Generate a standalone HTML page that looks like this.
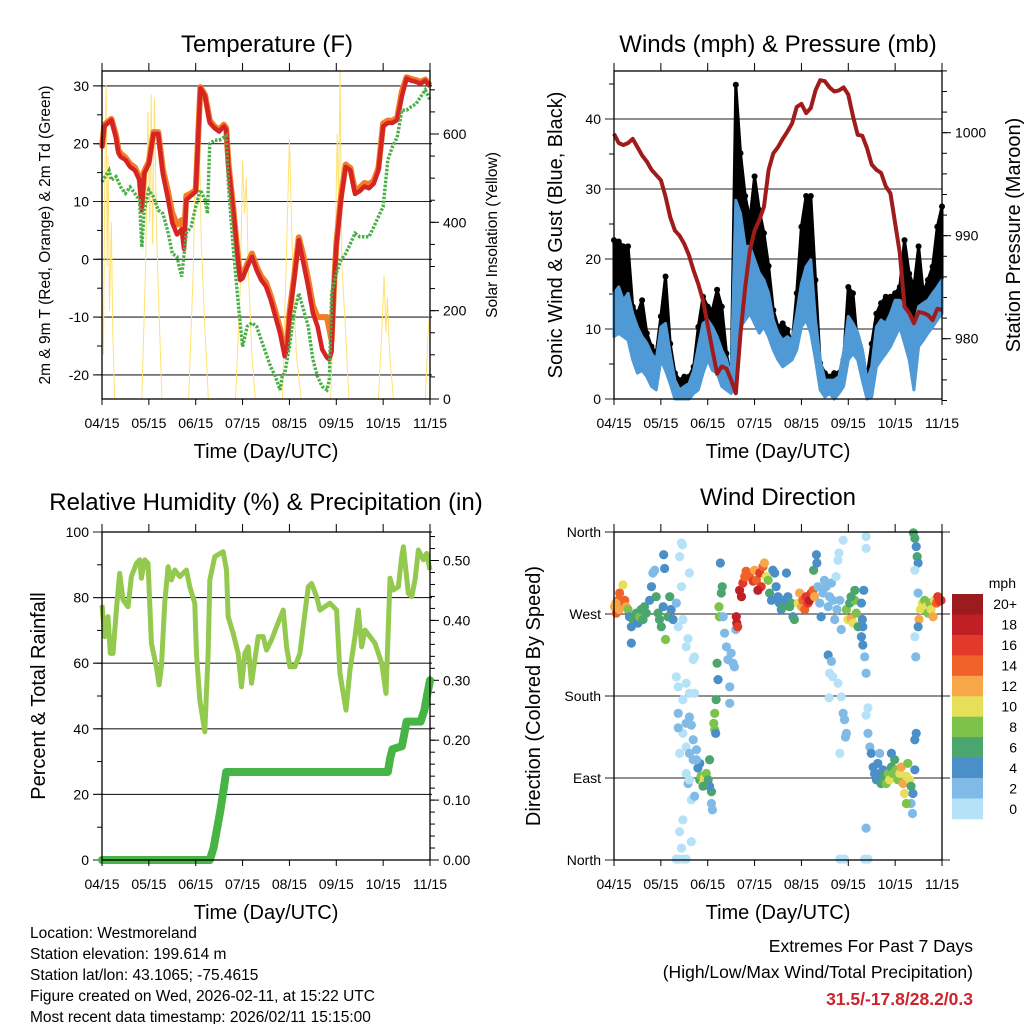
<!DOCTYPE html>
<html><head><meta charset="utf-8">
<style>
html,body{margin:0;padding:0;background:#fff;}
svg{display:block;font-family:"Liberation Sans",Arial,sans-serif;}
</style></head>
<body>
<svg id="chart" width="1024" height="1024" viewBox="0 0 1024 1024" xmlns="http://www.w3.org/2000/svg">
<rect width="1024" height="1024" fill="#fff"/>
<g id="g1"></g>
<g id="g2"></g>
<g id="g3"></g>
<g id="g4"></g>
<g font-size="15.5" fill="#000">
<text x="30" y="938">Location: Westmoreland</text>
<text x="30" y="959">Station elevation: 199.614 m</text>
<text x="30" y="980">Station lat/lon: 43.1065; -75.4615</text>
<text x="30" y="1001">Figure created on Wed, 2026-02-11, at 15:22 UTC</text>
<text x="30" y="1022">Most recent data timestamp: 2026/02/11 15:15:00</text>
</g>
<g text-anchor="end">
<text x="973" y="952" font-size="17.5">Extremes For Past 7 Days</text>
<text x="973" y="978" font-size="17.5">(High/Low/Max Wind/Total Precipitation)</text>
<text x="973" y="1005" font-size="17.5" font-weight="bold" fill="#d0222a">31.5/-17.8/28.2/0.3</text>
</g>
</svg>
<script>
// ---------- shared ----------
const xTickLabels = ["04/15","05/15","06/15","07/15","08/15","09/15","10/15","11/15"];
// ---------- temperature data ----------
const tempTime = [0,0.05,0.2,0.3,0.35,0.4,0.5,0.6,0.7,0.8,0.85,0.9,1.0,1.1,1.2,1.3,1.4,1.5,1.6,1.7,1.75,1.8,1.9,2.0,2.1,2.2,2.3,2.4,2.5,2.6,2.65,2.7,2.8,2.9,2.95,3.0,3.1,3.2,3.3,3.4,3.5,3.6,3.7,3.8,3.9,3.95,4.0,4.1,4.2,4.3,4.4,4.5,4.6,4.7,4.8,4.85,4.9,4.95,5.0,5.1,5.2,5.3,5.4,5.5,5.6,5.7,5.8,5.9,6.0,6.1,6.2,6.3,6.4,6.5,6.6,6.7,6.8,6.9,7.0];
const temp2m = [19.2,23,24.1,21,18.4,17.7,17.2,16,15.4,13.7,8.5,14.8,16.5,21.7,21.7,14.7,10.8,6.3,4.3,5.2,1.8,10.3,11,11.7,29.6,28.2,23.6,22.7,22.1,23,22.4,16,8.5,-0.1,-3.6,-3.3,-1.3,0.45,-1.9,-3.6,-4.7,-7,-9.9,-12.8,-16.8,-15.5,-9.9,-3.6,3.3,-0.7,-4.7,-9.3,-11.6,-15.6,-17,-17.3,-16,-5,2.2,10.3,16,15.4,11.3,11.8,12.6,12.3,13.1,15.4,23,23.6,23.6,24.1,28.2,31.3,30.9,30.7,30.4,30.9,29.9];
const temp9m = [19.5,23.3,24.3,21.4,18.9,18.3,17.6,16.5,15.9,14.2,9.5,15.2,16.9,22,22,15.5,12,8,6,6.8,4,11,11.4,12,29.8,28.4,24,23,22.4,23.3,22.7,16.5,9,0.5,-3,-2.8,-0.8,1,-1.3,-3,-4,-6.3,-9,-12,-16,-15,-9.3,-3,3.8,0.5,-3.5,-8,-10,-10,-10,-12,-14,-5,2.6,10.8,16.4,15.8,11.8,12.4,13.2,13,13.6,15.8,23.5,24,24,24.5,29,31.5,31.2,31,30.7,31.1,30.1];
const dewTime = [0,0.15,0.2,0.3,0.4,0.5,0.6,0.7,0.8,0.85,0.9,1.0,1.1,1.2,1.3,1.4,1.5,1.6,1.7,1.8,1.9,2.0,2.1,2.2,2.25,2.3,2.4,2.5,2.6,2.65,2.7,2.8,2.9,3.0,3.1,3.2,3.3,3.4,3.5,3.6,3.7,3.8,3.85,3.9,4.0,4.1,4.2,4.3,4.4,4.5,4.6,4.7,4.8,4.85,4.9,5.0,5.1,5.2,5.3,5.4,5.5,5.6,5.7,5.8,5.9,6.0,6.1,6.2,6.3,6.4,6.5,6.6,6.7,6.8,6.9,7.0];
const dewVals = [13.4,15.4,13.7,14.3,12.5,11.4,12.5,11.4,10.2,2.1,8.5,12,10.8,8.5,7.9,5,1,0.45,-3,4.5,5.6,9.1,12,10.2,7.9,20,20.6,20.6,21.1,21.4,12.5,2.1,-7,-15.1,-11.6,-11,-11.6,-14,-16.3,-18.6,-20.3,-22.6,-20,-19.8,-15.1,-9.3,-5.9,-8.7,-11.6,-17.3,-20.3,-22,-22.6,-21,-5.9,-2.4,-0.1,1,2.7,4.5,3.9,3.9,3.9,5.6,7.4,9.1,17.2,19.5,21.1,25.8,25.8,26.4,26.9,28.1,29.3,27.6];
const solarTime = [0,0.03,0.06,0.09,0.11,0.13,0.16,0.2,0.23,0.27,0.85,0.93,0.98,1.02,1.05,1.08,1.12,1.16,1.2,1.28,1.85,1.95,2.0,2.04,2.08,2.12,2.2,2.27,2.85,2.95,3.0,3.04,3.08,3.12,3.2,3.27,3.85,3.93,4.0,4.07,4.15,4.25,4.88,4.97,5.02,5.05,5.08,5.12,5.2,5.27,5.9,5.97,6.02,6.06,6.09,6.14,6.22,6.9,6.96,7.0];
const solarVals = [250,100,500,711,300,550,200,400,150,0,0,300,650,400,690,350,680,400,250,0,0,300,610,450,560,350,150,0,0,250,540,420,500,300,100,0,0,300,590,300,100,0,0,300,600,450,745,300,150,0,0,150,279,150,230,100,0,0,150,208];
const tempTicks = [30,20,10,0,-10,-20];
const solarTicks = [0,200,400,600];
// ---------- wind data ----------
const windTime = [0,0.1,0.2,0.3,0.4,0.5,0.6,0.7,0.8,0.9,1.0,1.1,1.2,1.3,1.4,1.5,1.6,1.7,1.8,1.9,2.0,2.1,2.2,2.3,2.4,2.5,2.6,2.7,2.8,2.9,3.0,3.1,3.2,3.3,3.4,3.5,3.6,3.7,3.8,3.9,4.0,4.1,4.2,4.3,4.4,4.5,4.6,4.7,4.8,4.9,5.0,5.1,5.2,5.3,5.4,5.5,5.6,5.7,5.8,5.9,6.0,6.1,6.2,6.3,6.4,6.5,6.6,6.7,6.8,6.9,7.0];
const sonicLow = [8.9,9.4,8.9,8.4,5.6,3.7,4.1,3.2,1.8,1.3,5.6,4.1,2.2,0,0,0,0,0.8,1.3,3.7,5.6,4.1,3.7,1.8,1.3,0.8,1.8,10.3,11.3,12.2,10.8,9.4,10.3,8.9,7,5.6,4.6,5.1,5.6,7,10.3,11.3,9.4,5.6,1.3,0.3,0.8,0,0.8,1.8,5.6,6.5,5.6,2.7,0,0.3,4.6,5.6,6.5,7.5,8.9,10.3,8,5.6,1.3,7.5,8.4,9.4,10.3,11.3,12.2];
const sonicHigh = [15.1,16,14.1,15.1,12.2,10.3,8.9,8,6.5,5.6,10.3,10.8,6.5,2.7,1.3,1.8,2.2,4.1,7.5,10.8,11.3,10.3,8.9,7,5.6,3.2,28.4,26.5,21.8,21.8,19.9,18,17,15.1,11.3,9.4,8.4,8.9,8.4,12.2,16.5,18.9,19.9,11.3,5.6,2.7,2.7,2.7,3.2,6.5,11.8,10.8,9.4,7,2.7,4.6,10.3,11.3,10.8,12.2,14.1,14.1,13.2,11.3,10.3,13.2,13.7,14.1,15.1,16,17];
const gustHigh = [22.7,22.5,21.8,21.8,13.2,12.2,14.1,9.4,7.5,6.5,11.8,17.5,7.9,3.7,2.7,3.2,3.2,4.6,10.3,14.6,13.2,12.7,15.6,13.2,6.5,2.7,44.9,35.1,29,25.6,31.8,27,23.7,19,12.7,10.3,10.8,9.9,7.9,15.1,24.6,29,29,17,5.1,3.7,3.2,3.7,3.7,5.6,16,15.1,7.5,5.6,3.2,7.9,12.2,13.7,14.6,14.6,15.1,16,22.7,17.9,16,21.8,15.1,17,18.9,24.6,27.5];
const pressVals = [999.9,999.0,998.8,999.0,999.4,998.6,997.8,997.2,996.4,995.9,995.4,993.8,991.8,990.5,990.0,989.2,988.1,986.6,985.3,983.7,981.3,978.9,976.6,977.3,977.1,976.0,974.7,980.5,985.0,988.6,990.5,991.5,992.8,996.4,998.0,998.6,999.4,1000.1,1000.9,1002.5,1002.8,1001.9,1002.4,1004.1,1005.1,1005.0,1004.4,1004.0,1004.1,1004.4,1003.7,1001.6,999.8,999.7,998.5,996.9,996.4,996.1,994.8,994.1,991.2,988.3,983.1,982.5,981.5,982.6,982.5,982.3,981.8,982.9,982.8];
const windTicks = [0,10,20,30,40];
const pressTicks = [980,990,1000];
// ---------- humidity / precip ----------
const rhTime = [0,.057,.128,.178,.235,.306,.377,.449,.556,.627,.734,.805,.84,.912,.983,1.054,1.161,1.218,1.268,1.339,1.41,1.481,1.553,1.66,1.802,1.873,1.98,2.016,2.087,2.194,2.265,2.301,2.407,2.585,2.657,2.692,2.799,2.906,2.977,3.048,3.12,3.191,3.262,3.333,3.44,3.511,3.618,3.725,3.868,3.939,4.01,4.117,4.224,4.33,4.402,4.473,4.58,4.651,4.865,5.007,5.078,5.207,5.292,5.399,5.47,5.541,5.613,5.719,5.826,5.969,6.061,6.147,6.218,6.325,6.396,6.432,6.538,6.61,6.681,6.752,6.859,6.93,7.0];
const rhVals = [77.7,68.1,74.2,63,63,76.2,87.4,79.3,77.2,86.4,90.4,91.5,85.9,91.5,90.4,66.1,58.9,53.4,58.9,78.3,89.4,85.4,88.4,86.4,88.4,83.3,78.3,63,48.8,39.1,63,85.4,92.5,94,88.4,74.2,69.1,63,52.8,63,65,53.9,61,68.1,68.1,64,67.1,71.1,76.2,65,58.9,58.9,63,75.2,83.3,84.3,80.3,76.2,78.3,76.2,56.9,45.7,57.9,68.1,76.2,65,70.1,68.1,66.1,60,50.8,85.9,82.3,83.3,92.5,95.5,81.3,80.3,85.4,94.5,91.5,93.5,88.4];
const rainTime = [0,2.3,2.38,2.45,2.52,2.6,2.65,6.1,6.15,6.2,6.4,6.45,6.5,6.8,6.88,6.95,7.0];
const rainVals = [0,0,0.02,0.05,0.08,0.12,0.147,0.147,0.17,0.185,0.19,0.21,0.231,0.231,0.25,0.28,0.30];
const rhTicks = [0,20,40,60,80,100];
const rainTicks = ["0.00","0.10","0.20","0.30","0.40","0.50"];
// ---------- wind direction ----------
const dirTime = [.01,.05,.09,.12,.16,.19,.23,.26,.30,.11,.04,
.33,.37,.37,.41,.48,.51,.55,.58,.62,.65,.69,.76,.80,.83,.87,.90,.94,.97,1.01,1.05,1.06,1.08,1.10,1.15,1.19,1.22,1.26,1.33,1.37,1.40,1.44,1.46,
1.44,1.47,1.54,1.58,1.61,1.69,1.72,1.33,1.37,1.54,1.47,1.61,1.72,1.37,1.47,1.54,1.61,1.65,1.69,1.54,1.61,1.69,1.76,1.37,1.40,1.54,1.58,1.61,1.65,1.72,1.47,1.40,1.44,1.37,1.47,1.54,1.65,1.33,
1.79,1.83,1.86,1.90,1.93,1.97,2.01,2.04,2.08,2.04,1.83,1.76,2.08,2.10,1.90,
2.18,2.15,2.13,2.15,2.17,2.20,2.22,2.24,2.25,2.29,2.31,2.27,2.33,2.36,2.40,2.43,2.47,2.47,2.50,2.54,2.57,2.60,2.61,2.62,2.64,
2.68,2.72,2.75,2.79,2.82,2.89,2.97,3.00,3.04,3.11,3.18,3.21,3.14,3.07,3.25,3.29,3.32,3.36,3.39,3.43,3.46,3.50,3.53,3.57,3.61,3.64,3.68,3.71,3.75,3.78,3.82,3.85,
3.93,3.96,4.00,4.03,4.07,4.10,4.14,4.17,4.21,4.25,4.28,4.26,4.32,4.33,
4.35,4.39,4.42,4.46,4.49,4.53,4.57,4.60,4.64,4.67,4.71,4.74,4.78,4.80,4.89,4.76,4.82,4.85,4.57,4.60,4.67,4.78,4.85,4.59,4.64,
4.96,4.99,5.03,5.06,5.10,5.14,5.17,5.21,5.14,5.06,5.28,5.30,5.31,5.33,5.28,5.31,5.35,5.38,5.38,5.38,5.35,5.42,5.38,4.89,4.92,4.96,4.94,4.82,4.92,4.82,5.42,5.38,
5.42,5.46,5.49,5.53,5.56,5.60,5.63,5.67,5.70,5.74,5.78,5.81,5.85,5.88,5.92,5.95,5.99,6.02,6.06,6.10,6.13,6.17,6.20,6.24,6.27,6.31,6.34,6.38,6.42,6.34,6.37,6.42,6.45,6.24,5.92,5.67,
6.39,6.42,6.45,6.47,6.49,6.42,6.49,6.42,6.44,
6.51,6.54,6.58,6.63,6.66,6.70,6.74,6.77,6.81,6.84,6.88,6.91,6.95,6.98,6.49];
const dirDeg = [278,271,285,293,282,302,285,278,275,275,282,
267,256,238,264,271,260,267,275,264,278,271,285,300,315,318,289,271,264,256,278,335,320,242,267,289,275,264,282,256,333,348,346,
300,264,234,243,315,220,223,201,190,194,176,183,183,161,139,150,157,148,132,124,117,110,121,145,117,95,84,88,66,70,44,31,13,1,1,1,20,1,
101,88,92,84,90,95,88,110,75,81,106,110,62,55,81,
176,161,150,143,139,216,198,278,267,293,300,326,267,249,234,220,190,172,227,216,212,253,267,260,256,
296,289,304,311,317,311,306,318,307,315,322,326,300,296,311,307,293,285,318,315,300,289,282,275,278,285,315,289,278,282,267,264,
282,293,278,285,275,289,282,285,293,296,289,318,335,326,
300,282,267,293,307,300,278,289,304,285,264,311,329,337,351,275,285,253,225,205,201,194,179,178,218,
275,264,282,265,260,285,271,256,296,289,282,264,256,296,245,236,223,205,355,342,1,1,35,161,154,139,135,117,1,1,167,159,
139,124,117,102,95,88,106,95,84,99,92,84,95,88,102,95,110,99,88,95,102,84,73,92,106,88,81,73,99,62,51,132,139,62,117,117,
359,353,344,333,326,318,293,245,223,
264,275,282,285,278,271,282,275,267,285,282,289,284,285,256];
const dirSpeed = [13,14,15,15,14,11,15,13,8,12,12,
4,4,4,6,6,4,8,6,7,6,6,5,4,3,3,6,7,6,7,5,4,5,9,7,6,5,4,3,1,1,1,1,
1,1,1,1,1,1,1,1,1,1,1,1,1,3,1,2,3,2,2,1,2,3,3,3,1,1,2,1,1,2,1,1,1,1,1,1,1,1,
4,6,8,10,11,8,7,6,6,4,4,3,3,3,6,
6,8,8,8,4,6,4,8,8,6,6,4,3,3,3,3,2,3,3,3,2,3,18,18,16,
19,18,17,15,14,15,16,12,14,16,15,12,17,18,10,9,6,5,5,4,4,5,4,4,6,5,4,5,6,6,4,6,
11,13,12,15,14,16,17,19,16,14,12,6,4,4,
2,3,4,2,2,2,3,2,2,2,2,1,1,1,1,3,3,3,4,1,1,1,1,1,2,
8,10,7,12,10,8,9,7,6,6,5,4,4,4,4,4,2,2,1,1,1,1,2,2,3,3,3,1,1,1,1,1,
3,3,4,5,5,4,4,5,7,5,6,8,8,10,7,8,6,8,8,10,12,12,10,10,8,10,6,4,4,3,3,4,4,8,4,3,
6,6,4,6,4,1,2,1,3,
12,10,10,8,10,8,8,10,12,10,14,16,17,16,4];
const dirTicks = ["North","West","South","East","North"];
const speedBins = ["20+","18","16","14","12","10","8","6","4","2","0"];
const speedColors = ["#9c1b1f","#c01f26","#e2392c","#f0622a","#f7a64a","#e6df5a","#7dc24b","#4aa66e","#4a8fc8","#7fbbe6","#b6e2f8"];

// ---------- helpers ----------
const NS = "http://www.w3.org/2000/svg";
function mk(tag, attrs, parent){const e=document.createElementNS(NS,tag);for(const k in attrs)e.setAttribute(k,attrs[k]);parent.appendChild(e);return e;}
function txt(parent,x,y,s,size,anchor,extra){const e=mk("text",Object.assign({x:x,y:y,"font-size":size,"text-anchor":anchor||"start"},extra||{}),parent);e.textContent=s;return e;}
function pathFrom(xs, ys){let d="";for(let i=0;i<xs.length;i++)d+=(i?"L":"M")+xs[i].toFixed(2)+" "+ys[i].toFixed(2);return d;}

function frame(g, x0,x1,y0,y1){
  for(let i=0;i<xTickLabels.length;i++){
    const x=x0+i*(x1-x0)/7;
    const t1=mk("line",{x1:x,x2:x,y1:y0,y2:y0-8,stroke:"#000","stroke-width":1},g);
    
    
    const t2=mk("line",{x1:x,x2:x,y1:y1,y2:y1+6,stroke:"#000","stroke-width":1},g);
    
    
    const l=txt(g,x,y1+29,xTickLabels[i],14,"middle");
    
    
  }
  const t=txt(g,(x0+x1)/2,y1+59,"Time (Day/UTC)",20,"middle");
  
  
}
function border(g,x0,x1,y0,y1){
  const b=mk("rect",{x:x0,y:y0,width:x1-x0,height:y1-y0,fill:"none",stroke:"#000","stroke-width":1.3},g);
  
  
}
function yAxis(g, side, x, vals, labels, yf, minorVals, gridX0, gridX1){
  const dir = side==="left"?-1:1;
  for(const v of minorVals){
    const m=mk("line",{x1:x,x2:x+dir*5,y1:yf(v),y2:yf(v),stroke:"#000","stroke-width":1},g);
    
    
  }
  vals.forEach((v,i)=>{
    const y=yf(v);
    const tk=mk("line",{x1:x,x2:x+dir*9,y1:y,y2:y,stroke:"#000","stroke-width":1},g);
    
    
    if(gridX0!==undefined){
      const gl=mk("line",{x1:gridX0,x2:gridX1,y1:y,y2:y,stroke:"#222","stroke-width":1.1},g);
      
      
    }
    const lb=txt(g,x+dir*13,y+5,labels[i],14,side==="left"?"end":"start");
    
    
  });
}
function range(a,b,s){const r=[];for(let v=a;v<=b+1e-9;v+=s)r.push(+v.toFixed(4));return r;}

// ---------- Panel 1: temperature ----------
(function(){
  const g=document.getElementById("g1");
  const x0=102,x1=430,y0=71,y1=399;
  const X=t=>x0+t*(x1-x0)/7, YT=v=>259.3-v*5.78, YS=v=>399-v*0.4417;
  const ti=txt(g,267,52,"Temperature (F)",24,"middle");
  
  
  yAxis(g,"left",x0,tempTicks,tempTicks.map(String),YT,range(-20,30,5),x0-8,x1+2);
  yAxis(g,"right",x1,solarTicks,solarTicks.map(String),YS,range(0,700,50),undefined);
  const ys=mk("path",{d:pathFrom(solarTime.map(X),solarVals.map(YS)),fill:"none",stroke:"#ffe173","stroke-width":1},g);
  
  
  const o=mk("path",{d:pathFrom(tempTime.map(X),temp9m.map(YT)),fill:"none",stroke:"#f47c26","stroke-width":6,"stroke-linejoin":"round"},g);
  
  
  const r=mk("path",{d:pathFrom(tempTime.map(X),temp2m.map(YT)),fill:"none",stroke:"#d42424","stroke-width":4.5,"stroke-linejoin":"round"},g);
  
  
  const d=mk("path",{d:pathFrom(dewTime.map(X),dewVals.map(YT)),fill:"none",stroke:"#4cae48","stroke-width":3.4,"stroke-dasharray":"2.5 1.5"},g);
  
  
  border(g,x0,x1,y0,y1);
  frame(g,x0,x1,y0,y1);
  const yl=txt(g,0,0,"2m & 9m T (Red, Orange) & 2m Td (Green)",15.5,"middle",{transform:"translate(50,235) rotate(-90)"});
  
  
  const yr=txt(g,0,0,"Solar Insolation (Yellow)",15.5,"middle",{transform:"translate(497,235) rotate(-90)"});
  
  
})();

// ---------- Panel 2: winds ----------
(function(){
  const g=document.getElementById("g2");
  const x0=614,x1=942,y0=71,y1=399;
  const X=t=>x0+t*(x1-x0)/7, YW=v=>399-v*7.0, YP=p=>132.7+(1000-p)*10.3;
  const ti=txt(g,778,52,"Winds (mph) & Pressure (mb)",24,"middle");
  
  
  yAxis(g,"left",x0,windTicks,windTicks.map(String),YW,range(0,45,5),x0-8,x1);
  yAxis(g,"right",x1,pressTicks,pressTicks.map(String),YP,range(974,1006,2),undefined);
  const xs=windTime.map(X);
  const gustPoly=xs.map((x,i)=>x.toFixed(1)+","+YW(gustHigh[i]).toFixed(1)).concat(xs.map((x,i)=>x.toFixed(1)+","+YW(sonicHigh[i]).toFixed(1)).reverse()).join(" ");
  const gp=mk("polygon",{points:gustPoly,fill:"#000",stroke:"#000","stroke-width":3,"stroke-linejoin":"round"},g);
  
  
  windTime.forEach((t,i)=>{
    const c=mk("circle",{cx:X(t),cy:YW(gustHigh[i]),r:3,fill:"#000"},g);
    
    
  });
  const bluePoly=xs.map((x,i)=>x.toFixed(1)+","+YW(sonicHigh[i]).toFixed(1)).concat(xs.map((x,i)=>x.toFixed(1)+","+YW(sonicLow[i]).toFixed(1)).reverse()).join(" ");
  const bp=mk("polygon",{points:bluePoly,fill:"#4f9ad6",stroke:"#4f9ad6","stroke-width":3,"stroke-linejoin":"round"},g);
  
  
  const p=mk("path",{d:pathFrom(xs,pressVals.map(YP)),fill:"none",stroke:"#a01c1c","stroke-width":4,"stroke-linejoin":"round"},g);
  
  
  border(g,x0,x1,y0,y1);
  frame(g,x0,x1,y0,y1);
  const yl=txt(g,0,0,"Sonic Wind & Gust (Blue, Black)",20,"middle",{transform:"translate(562,235) rotate(-90)"});
  
  
  const yr=txt(g,0,0,"Station Pressure (Maroon)",20,"middle",{transform:"translate(1020,235) rotate(-90)"});
  
  
})();

// ---------- Panel 3: humidity ----------
(function(){
  const g=document.getElementById("g3");
  const x0=102,x1=430,y0=532,y1=860;
  const X=t=>x0+t*(x1-x0)/7, YR=v=>860-v*3.28, YP=v=>860-v*599;
  const ti=txt(g,266,510,"Relative Humidity (%) & Precipitation (in)",24,"middle");
  
  
  yAxis(g,"left",x0,rhTicks,rhTicks.map(String),YR,range(0,100,10),x0-8,x1+2);
  yAxis(g,"right",x1,rainTicks.map(Number),rainTicks,YP,range(0,0.54,0.02),undefined);
  const rh=mk("path",{d:pathFrom(rhTime.map(X),rhVals.map(YR)),fill:"none",stroke:"#93c94e","stroke-width":5,"stroke-linejoin":"round"},g);
  
  
  const rn=mk("path",{d:pathFrom(rainTime.map(X),rainVals.map(YP)),fill:"none",stroke:"#47b446","stroke-width":8,"stroke-linejoin":"round","stroke-linecap":"round"},g);
  
  
  border(g,x0,x1,y0,y1);
  frame(g,x0,x1,y0,y1);
  const yl=txt(g,0,0,"Percent & Total Rainfall",20,"middle",{transform:"translate(45,696) rotate(-90)"});
  
  
})();

// ---------- Panel 4: wind direction ----------
(function(){
  const g=document.getElementById("g4");
  const x0=614,x1=942,y0=532,y1=860;
  const X=t=>x0+t*(x1-x0)/7, YD=d=>860-d*328/360;
  const ti=txt(g,778,505,"Wind Direction",24,"middle");
  
  
  yAxis(g,"left",x0,[360,270,180,90,0],dirTicks,YD,[],x0-8,x1+8);
  function colorFor(s){let k=Math.min(10,Math.floor(s/2));return speedColors[10-k];}
  dirTime.forEach((t,i)=>{
    const c=mk("circle",{cx:X(t),cy:YD(dirDeg[i]),r:4.6,fill:colorFor(dirSpeed[i])},g);
    
    
  });
  border(g,x0,x1,y0,y1);
  frame(g,x0,x1,y0,y1);
  const yl=txt(g,0,0,"Direction (Colored By Speed)",20,"middle",{transform:"translate(540,696) rotate(-90)"});
  
  
  const lg=mk("g",{},g);
  
  
  const mph=txt(lg,1016,588,"mph",14,"end");
  
  
  const h=(819-594)/speedBins.length;
  speedBins.forEach((lab,i)=>{
    const r=mk("rect",{x:952,y:594+i*h,width:31,height:h+0.3,fill:speedColors[i]},lg);
    
    
    const l=txt(lg,1017,594+i*h+h/2+5,lab,14,"end");
    
    
  });
})();
</script>
</body></html>
